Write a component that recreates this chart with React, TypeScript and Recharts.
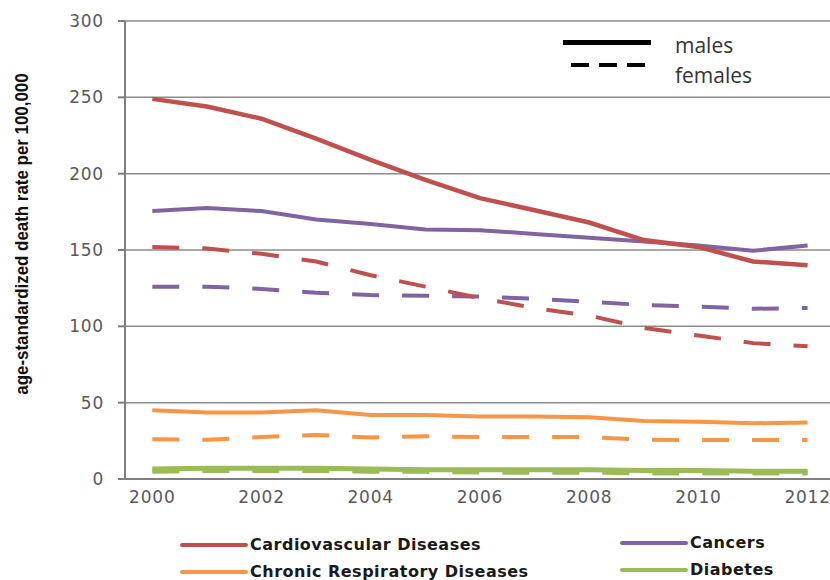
import { LineChart, Line, XAxis, YAxis, CartesianGrid } from "recharts";

const years = [2000, 2001, 2002, 2003, 2004, 2005, 2006, 2007, 2008, 2009, 2010, 2011, 2012];

const cvdMales = [249, 244, 236, 223, 209, 196, 184, 176, 168, 156.5, 152, 142.5, 140];
const cvdFemales = [152, 151, 147.5, 142.5, 133.5, 126, 118.5, 112, 107, 99, 94, 89, 87];
const cancerMales = [175.5, 177.5, 175.5, 170, 167, 163.5, 163, 160.5, 158, 155.5, 153, 149.5, 153];
const cancerFemales = [126, 126, 124.5, 122, 120.5, 120, 119.5, 118, 116, 114, 113, 111.5, 112];
const crdMales = [45, 43.5, 43.5, 45, 42, 42, 41, 41, 40.5, 38, 37.5, 36.5, 37];
const crdFemales = [26, 25.7, 27.5, 28.8, 27.2, 28, 27.5, 27.5, 27.5, 25.7, 25.5, 25.5, 25.5];
const diabetesMales = [6.5, 7, 7, 7, 6.5, 6, 6, 6, 6, 5.5, 5.5, 5, 5];
const diabetesFemales = [5, 5.5, 5.5, 5.5, 5, 5, 4.5, 4.5, 4.5, 4, 4, 4, 4];

const yTicks = [0, 50, 100, 150, 200, 250, 300];
const xTicks = [2000, 2002, 2004, 2006, 2008, 2010, 2012];

const diseaseNames = ["Cardiovascular Diseases", "Cancers", "Chronic Respiratory Diseases", "Diabetes"];
const sexNames = ["males", "females"];

const RED = "#c0504d";
const PURPLE = "#8064a2";
const ORANGE = "#f79646";
const GREEN = "#9bbb59";
const legendColors = [RED, PURPLE, ORANGE, GREEN];

const data = years.map((year, i) => ({
  year,
  cvdM: cvdMales[i],
  cvdF: cvdFemales[i],
  canM: cancerMales[i],
  canF: cancerFemales[i],
  crdM: crdMales[i],
  crdF: crdFemales[i],
  diaM: diabetesMales[i],
  diaF: diabetesFemales[i],
}));

const DASH = "27 23";
const tickStyle = { fill: "#595959", fontSize: 17, fontFamily: "DejaVu Sans, sans-serif", letterSpacing: 0.8 };

function DiseaseLegend() {
  const item = (i: number, left: number, top: number) => (
    <div key={i} style={{ position: "absolute", left, top, display: "flex", alignItems: "center" }}>
      <div style={{ width: 68, height: 4, background: legendColors[i], borderRadius: 2 }} />
      <span
        style={{
          marginLeft: 2,
          fontFamily: "DejaVu Sans, sans-serif",
          fontWeight: 700,
          fontSize: 16,
          letterSpacing: 0.5,
          color: "#1a1a1a",
          lineHeight: "18px",
        }}
      >
        {diseaseNames[i]}
      </span>
    </div>
  );
  return (
    <>
      {item(0, 180, 536)}
      {item(1, 620, 534)}
      {item(2, 180, 563)}
      {item(3, 620, 561)}
    </>
  );
}

function SexLegend() {
  const txt = {
    position: "absolute" as const,
    left: 675,
    fontFamily: "Open Sans, Liberation Sans, sans-serif",
    fontSize: 21,
    lineHeight: "24px",
    color: "#333",
  };
  return (
    <>
      <div style={{ position: "absolute", left: 563, top: 40, width: 88, height: 5, background: "#000" }} />
      <svg style={{ position: "absolute", left: 571, top: 62 }} width={80} height={6}>
        <line x1={0} y1={3} x2={75} y2={3} stroke="#000" strokeWidth={4} strokeDasharray="18 10" />
      </svg>
      <div style={{ ...txt, top: 33 }}>{sexNames[0]}</div>
      <div style={{ ...txt, top: 63 }}>{sexNames[1]}</div>
    </>
  );
}

export default function App() {
  return (
    <div style={{ position: "absolute", left: 0, top: 0, width: 830, height: 580, background: "#fff" }}>
      <LineChart width={830} height={580} data={data} margin={{ top: 21, right: 0, bottom: 71, left: 0 }}>
        <CartesianGrid vertical={false} stroke="#8c8c8c" strokeWidth={1.5} />
        <XAxis
          dataKey="year"
          type="number"
          domain={[1999.5, 2012.41]}
          ticks={xTicks}
          height={30}
          tick={tickStyle}
          tickLine={false}
          tickSize={0}
          tickMargin={12}
          stroke="#7f7f7f"
          strokeWidth={2}
          allowDataOverflow
        />
        <YAxis
          domain={[0, 300]}
          ticks={yTicks}
          width={125}
          tick={tickStyle}
          tickSize={7}
          tickMargin={14}
          stroke="#7f7f7f"
          strokeWidth={2}
          label={{
            content: () => (
              <text
                x={0}
                y={0}
                transform="translate(28 234) rotate(-90) scale(0.94 1)"
                textAnchor="middle"
                fontFamily="Liberation Sans, Arial, sans-serif"
                fontWeight={700}
                fontSize={18}
                fill="#111"
              >
                age-standardized death rate per 100,000
              </text>
            ),
          }}
        />
        <Line dataKey="diaF" stroke={GREEN} strokeWidth={5} strokeDasharray={DASH} dot={false} isAnimationActive={false} />
        <Line dataKey="diaM" stroke={GREEN} strokeWidth={5} dot={false} isAnimationActive={false} />
        <Line dataKey="crdF" stroke={ORANGE} strokeWidth={4} strokeDasharray={DASH} dot={false} isAnimationActive={false} />
        <Line dataKey="crdM" stroke={ORANGE} strokeWidth={4} dot={false} isAnimationActive={false} />
        <Line dataKey="canF" stroke={PURPLE} strokeWidth={4} strokeDasharray={DASH} dot={false} isAnimationActive={false} />
        <Line dataKey="canM" stroke={PURPLE} strokeWidth={4} dot={false} isAnimationActive={false} />
        <Line dataKey="cvdF" stroke={RED} strokeWidth={4} strokeDasharray={DASH} dot={false} isAnimationActive={false} />
        <Line dataKey="cvdM" stroke={RED} strokeWidth={4.5} dot={false} isAnimationActive={false} />
      </LineChart>
      <SexLegend />
      <DiseaseLegend />
    </div>
  );
}
